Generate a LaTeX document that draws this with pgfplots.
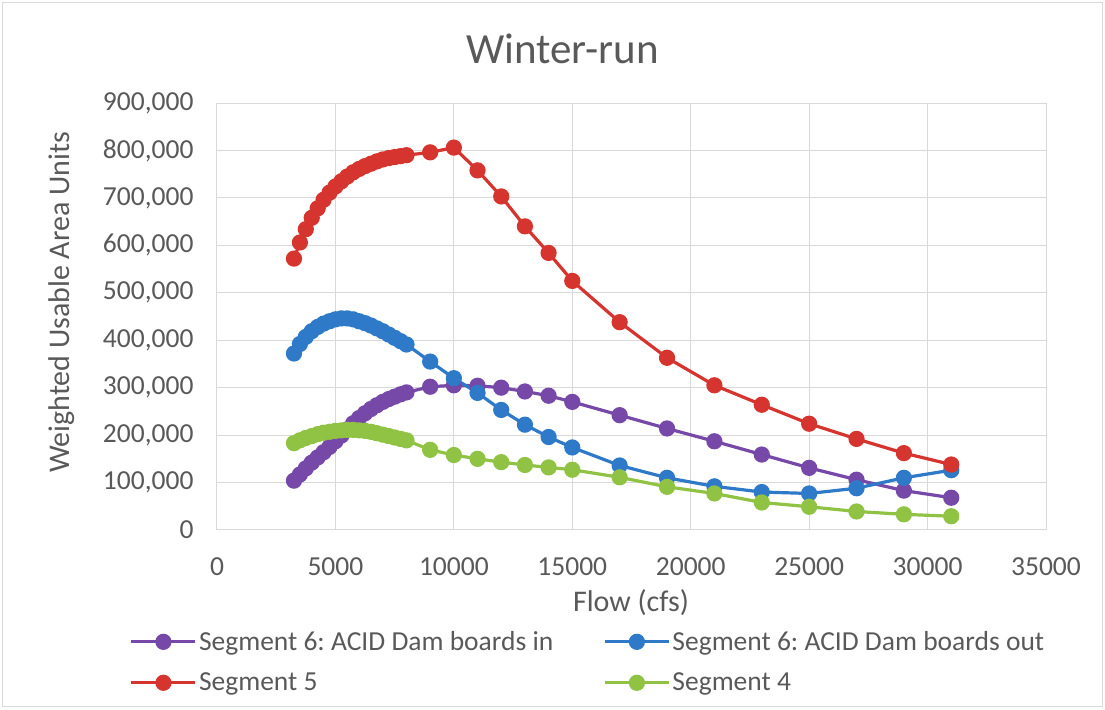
\documentclass[border=0pt]{standalone}
\usepackage{pgfplots}
\pgfplotsset{compat=1.18}
\usepackage{pgfplotstable}
\usepackage{fontspec}
\setmainfont{Carlito}
\frenchspacing

\definecolor{segin}{RGB}{118,72,168}
\definecolor{segout}{RGB}{46,122,200}
\definecolor{segfive}{RGB}{214,52,46}
\definecolor{segfour}{RGB}{144,194,68}
\definecolor{gridgray}{RGB}{217,217,217}
\definecolor{textgray}{RGB}{89,89,89}

% flow (cfs) vs weighted usable area
\pgfplotstableread{
flow  segin  segout segfive segfour
3250  104000 372000 572000 183000
3500  117000 392000 606000 189000
3750  130000 407000 634000 194000
4000  142000 419000 658000 198000
4250  153000 428000 678000 202000
4500  164000 435000 696000 205000
4750  175000 440000 711000 207000
5000  187000 444000 724000 209000
5250  199000 446000 735000 210000
5500  212000 446000 745000 211000
5750  225000 444000 754000 211000
6000  236000 440000 761000 210000
6250  246000 436000 767000 209000
6500  255000 431000 772000 207000
6750  263000 425000 777000 204000
7000  270000 419000 781000 201000
7250  276000 412000 784000 198000
7500  281000 405000 786000 195000
7750  286000 398000 788000 192000
8000  290000 391000 790000 189000
9000  302000 355000 796000 169000
10000 305000 320000 806000 158000
11000 304000 289000 758000 150000
12000 300000 253000 703000 143000
13000 292000 222000 640000 137000
14000 283000 196000 584000 132000
15000 270000 174000 525000 127000
17000 242000 136000 438000 111000
19000 214000 110000 363000 91000
21000 187000 92000  305000 77000
23000 159000 80000  264000 58000
25000 131000 77000  224000 49000
27000 106000 88000  192000 39000
29000 83000  110000 162000 33000
31000 68000  126000 138000 29000
}\winterdata

\begin{document}
\begin{tikzpicture}[x=1bp,y=1bp]
\useasboundingbox (-217,-180) rectangle (888,530);
\draw[gridgray, line width=1bp] (-214,-177) rectangle (885,527);
\begin{axis}[
    at={(0,0)}, anchor=south west,
    scale only axis,
    width=829bp, height=427bp,
    xmin=0, xmax=35000,
    ymin=0, ymax=900000,
    xtick={0,5000,...,35000},
    ytick={0,100000,...,900000},
    grid=major,
    major grid style={draw=gridgray, line width=1bp},
    axis line style={draw=none},
    major tick length=0pt,
    tick label style={font=\fontsize{27.5bp}{31bp}\selectfont, text=textgray},
    /pgf/number format/assume math mode=true,
    scaled x ticks=false,
    scaled y ticks=false,
    yticklabel style={/pgf/number format/fixed, /pgf/number format/1000 sep={,},
        anchor=east, xshift=-20bp},
    xticklabel style={/pgf/number format/fixed, /pgf/number format/1000 sep={},
        anchor=center, yshift=-37bp},
    title={Winter-run},
    title style={at={(axis description cs:0.417,1.112)}, anchor=center,
        font=\fontsize{43bp}{48bp}\selectfont, text=textgray},
    xlabel={Flow (cfs)},
    xlabel style={at={(axis description cs:0.4995,-0.171)}, anchor=center,
        font=\fontsize{30bp}{34bp}\selectfont, text=textgray},
    ylabel={Weighted Usable Area Units},
    ylabel style={at={(axis description cs:-0.187,0.533)}, anchor=center,
        font=\fontsize{30bp}{34bp}\selectfont, text=textgray},
    every axis plot/.append style={line width=3.2bp, mark=*, mark size=6.5bp, mark options={solid}},
    legend columns=2,
    legend cell align=left,
    legend image code/.code={
        \draw[mark repeat=2, mark phase=2, #1] plot coordinates {(0bp,0bp) (32bp,0bp) (64bp,0bp)};},
    legend style={draw=none, fill=none,
        at={(axis description cs:-0.109,-0.228)}, anchor=north west,
        font=\fontsize{27.5bp}{31bp}\selectfont, text=textgray,
        /tikz/every even column/.append style={column sep=48bp},
        row sep=17bp},
]
\addplot[color=segin, mark options={fill=segin}] table[x=flow, y=segin] {\winterdata};
\addlegendentry{Segment 6: ACID Dam boards in}
\addplot[color=segout, mark options={fill=segout}] table[x=flow, y=segout] {\winterdata};
\addlegendentry{Segment 6: ACID Dam boards out}
\addplot[color=segfive, mark options={fill=segfive}] table[x=flow, y=segfive] {\winterdata};
\addlegendentry{Segment 5}
\addplot[color=segfour, mark options={fill=segfour}] table[x=flow, y=segfour] {\winterdata};
\addlegendentry{Segment 4}
\end{axis}
\end{tikzpicture}
\end{document}
